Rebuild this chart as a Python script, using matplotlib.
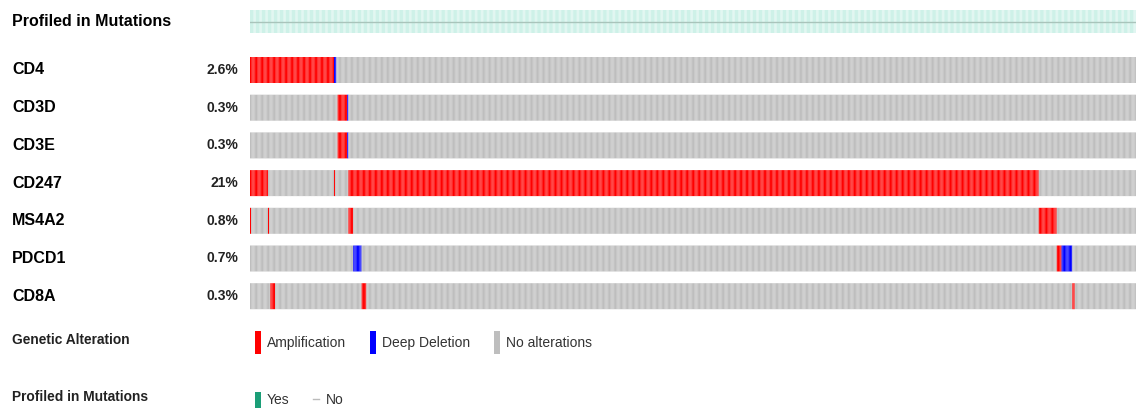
import matplotlib
matplotlib.use("Agg")
import matplotlib.pyplot as plt
import numpy as np

plt.rcParams['font.family'] = ['Liberation Sans', 'DejaVu Sans']

# oncoprint rows
GENES = ["CD4", "CD3D", "CD3E", "CD247", "MS4A2", "PDCD1", "CD8A"]
PCT_LABELS = ["2.6%", "0.3%", "0.3%", "21%", "0.8%", "0.7%", "0.3%"]
N_SAMPLES = 738  # columns in view

# altered runs per gene: (first sample, end sample exclusive, kind)
ALTERATIONS = {
    "CD4":   [(0, 70, "amp"), (70, 72, "del")],
    "CD3D":  [(73, 81, "amp"), (81, 82, "del")],
    "CD3E":  [(73, 81, "amp"), (81, 82, "del")],
    "CD247": [(0, 15, "amp"), (70, 71, "amp"), (82, 657, "amp")],
    "MS4A2": [(0, 1, "amp"), (15, 16, "amp"), (82, 86, "amp"), (657, 672, "amp")],
    "PDCD1": [(86, 93, "del"), (672, 676, "amp"), (676, 685, "del")],
    "CD8A":  [(17, 21, "amp"), (93, 97, "amp"), (685, 687, "amp")],
}

COLORS = {"none": "#bebebe", "amp": "#ff0000", "del": "#0000ff"}
PROFILED_COLOR = "#1b9e77"

W, H = 1136, 408
fig = plt.figure(figsize=(W / 100, H / 100), dpi=100)

# overlay in pixel coords for labels and legend
txt = fig.add_axes([0, 0, 1, 1])
txt.set_xlim(0, W)
txt.set_ylim(H, 0)
txt.axis("off")

# track area: samples on x, pixel rows on y
x0 = 250
ax = fig.add_axes([x0 / W, 0, (W - x0) / W, 1])
ax.set_xlim(0, N_SAMPLES)
ax.set_ylim(H, 0)
ax.axis("off")

samples = np.arange(N_SAMPLES)

# profiled-in-mutations track
ax.bar(samples, 23, bottom=10, width=0.45, align="edge",
       color="#a6e6d6", linewidth=0, snap=False)
ax.axhline(21.5, color="#a9c4bb", lw=1.0)

row_top0, row_step, row_h = 57, 37.7, 26
for k, gene in enumerate(GENES):
    status = np.array(["none"] * N_SAMPLES, dtype=object)
    for start, end, kind in ALTERATIONS[gene]:
        status[start:end] = kind
    cols = [COLORS[s] for s in status]
    top = row_top0 + k * row_step
    ax.bar(samples, row_h, bottom=top, width=0.94, align="edge",
           color=cols, linewidth=0, snap=False)
    yc = top + row_h / 2
    txt.text(12, yc, gene, fontsize=11.5, fontweight="bold", va="center", ha="left")
    txt.text(238, yc, PCT_LABELS[k], fontsize=10, fontweight="bold",
             va="center", ha="right", color="#222222")

txt.text(12, 21, "Profiled in Mutations", fontsize=11.5, fontweight="bold",
         va="center", ha="left")

# legends
txt.text(12, 340, "Genetic Alteration", fontsize=9.9, fontweight="bold",
         va="center", ha="left", color="#222222")
legend_items = [("Amplification", COLORS["amp"], 255),
                ("Deep Deletion", COLORS["del"], 370),
                ("No alterations", COLORS["none"], 494)]
for label, color, lx in legend_items:
    txt.add_patch(plt.Rectangle((lx, 331), 6, 23, color=color, lw=0))
    txt.text(lx + 12, 343, label, fontsize=10, va="center", ha="left",
             color="#333333")

txt.text(12, 397, "Profiled in Mutations", fontsize=9.9, fontweight="bold",
         va="center", ha="left", color="#222222")
txt.add_patch(plt.Rectangle((255, 392), 6, 20, color=PROFILED_COLOR, lw=0))
txt.text(267, 400, "Yes", fontsize=10, va="center", ha="left", color="#333333")
txt.plot([313, 319], [399, 399], color="#bbbbbb", lw=1)
txt.text(326, 400, "No", fontsize=10, va="center", ha="left", color="#333333")

fig.savefig("out.png", dpi=100)
